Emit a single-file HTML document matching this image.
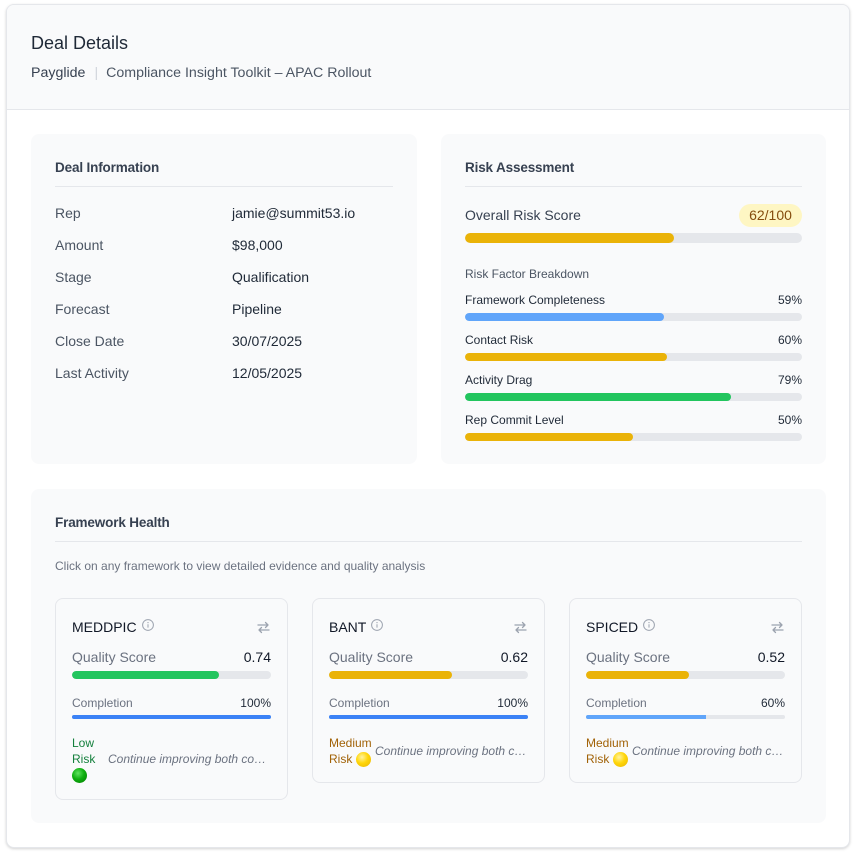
<!DOCTYPE html>
<html><head><meta charset="utf-8"><style>
*{box-sizing:border-box;margin:0;padding:0}
html,body{width:857px;height:854px;background:#fff;overflow:hidden;font-family:"Liberation Sans",Arial,sans-serif;position:relative}
.a{position:absolute;white-space:nowrap}
.outer{position:absolute;left:6px;top:4px;width:844px;height:844px;border:1px solid #e5e7eb;border-radius:8px;background:#fff;box-shadow:0 1px 3px rgba(0,0,0,.12),0 1px 2px rgba(0,0,0,.06);overflow:hidden}
.header{position:absolute;left:0;top:0;width:842px;height:105px;background:#f9fafb;border-bottom:1px solid #e5e7eb}
.card{position:absolute;background:#f9fafb;border-radius:8px}
.st{font-size:13.5px;font-weight:700;color:#374151;line-height:20px;letter-spacing:-0.15px}
.hr{position:absolute;height:1px;background:#e5e7eb}
.lbl{font-size:14px;color:#4b5563;line-height:20px;left:55px}
.val{font-size:14px;color:#1f2937;line-height:20px;left:232px}
.track{position:absolute;background:#e5e7eb;overflow:hidden}
.fill{position:absolute;left:0;top:0;height:100%}
.f12{font-size:12px;line-height:16px;color:#1f2937}
.sub{position:absolute;top:598px;width:233px;border:1px solid #e5e7eb;border-radius:8px;background:#f9fafb}
.sub .t{position:absolute;left:16px;top:18px;font-size:14px;line-height:20px;color:#111827;font-weight:500;white-space:nowrap}
.sub .t svg{vertical-align:top;margin-left:5px;margin-top:2px}
.sub .sw{position:absolute;left:200px;top:22px}
.sub .qs{position:absolute;left:16px;top:48px;font-size:14px;line-height:20px;color:#6b7280}
.sub .qv{position:absolute;right:16px;top:48px;font-size:14px;line-height:20px;color:#111827}
.sub .qb{position:absolute;left:16px;top:72px;width:199px;height:8px;border-radius:4px;background:#e5e7eb;overflow:hidden}
.sub .cl{position:absolute;left:16px;top:96px;font-size:12px;line-height:16px;color:#6b7280}
.sub .cv{position:absolute;right:16px;top:96px;font-size:12px;line-height:16px;color:#1f2937}
.sub .cb{position:absolute;left:16px;top:116px;width:199px;height:4px;border-radius:2px;background:#e5e7eb;overflow:hidden}
.sub .rr{position:absolute;left:16px;top:136px;width:199px;display:flex;align-items:center}
.sub .rl{font-size:12px;line-height:16px;flex:none}
.sub .rt{font-size:12px;line-height:16px;font-style:italic;color:#6b7280;white-space:nowrap;overflow:hidden;text-overflow:ellipsis;flex:1;min-width:0}
.dot{display:inline-block;width:15px;height:15px;border-radius:50%;vertical-align:middle}
.dg{background:radial-gradient(circle at 40% 35%,#5fe35f 0%,#10b010 45%,#007a00 100%)}
.dy{background:radial-gradient(circle at 40% 35%,#fff3a0 0%,#ffd60a 45%,#e8b400 100%)}
</style></head><body>
<div class="outer"><div class="header"></div></div>

<div class="a" style="left:31px;top:29px;font-size:18px;line-height:28px;color:#1f2937;font-weight:500">Deal Details</div>
<div class="a" style="left:31px;top:63px;font-size:14.2px;line-height:20px;color:#4b5563"><span style="color:#374151">Payglide</span><span style="color:#d1d5db;margin:0 8px 0 9px">|</span>Compliance Insight Toolkit – APAC Rollout</div>

<!-- Deal Information -->
<div class="card" style="left:31px;top:134px;width:386px;height:330px"></div>
<div class="a st" style="left:55px;top:158px">Deal Information</div>
<div class="hr" style="left:55px;top:186px;width:338px"></div>
<div class="a lbl" style="top:203px">Rep</div><div class="a val" style="top:203px">jamie@summit53.io</div>
<div class="a lbl" style="top:235px">Amount</div><div class="a val" style="top:235px">$98,000</div>
<div class="a lbl" style="top:267px">Stage</div><div class="a val" style="top:267px">Qualification</div>
<div class="a lbl" style="top:299px">Forecast</div><div class="a val" style="top:299px">Pipeline</div>
<div class="a lbl" style="top:331px">Close Date</div><div class="a val" style="top:331px">30/07/2025</div>
<div class="a lbl" style="top:363px">Last Activity</div><div class="a val" style="top:363px">12/05/2025</div>

<!-- Risk Assessment -->
<div class="card" style="left:441px;top:134px;width:385px;height:330px"></div>
<div class="a st" style="left:465px;top:158px">Risk Assessment</div>
<div class="hr" style="left:465px;top:186px;width:337px"></div>
<div class="a" style="left:465px;top:205px;font-size:14px;line-height:20px;color:#374151">Overall Risk Score</div>
<div class="a" style="left:739px;top:204px;width:63px;height:23px;border-radius:12px;background:#fef6c3;color:#854d0e;font-size:14px;line-height:23px;text-align:center">62/100</div>
<div class="track" style="left:465px;top:233px;width:337px;height:10px;border-radius:5px"><div class="fill" style="width:209px;background:#eab308;border-radius:5px"></div></div>
<div class="a f12" style="left:465px;top:266px;color:#4b5563">Risk Factor Breakdown</div>

<div class="a f12" style="left:465px;top:292px">Framework Completeness</div><div class="a f12" style="right:55px;top:292px">59%</div>
<div class="track" style="left:465px;top:313px;width:337px;height:8px;border-radius:4px"><div class="fill" style="width:199px;background:#60a5fa;border-radius:4px"></div></div>
<div class="a f12" style="left:465px;top:332px">Contact Risk</div><div class="a f12" style="right:55px;top:332px">60%</div>
<div class="track" style="left:465px;top:353px;width:337px;height:8px;border-radius:4px"><div class="fill" style="width:202px;background:#eab308;border-radius:4px"></div></div>
<div class="a f12" style="left:465px;top:372px">Activity Drag</div><div class="a f12" style="right:55px;top:372px">79%</div>
<div class="track" style="left:465px;top:393px;width:337px;height:8px;border-radius:4px"><div class="fill" style="width:266px;background:#22c55e;border-radius:4px"></div></div>
<div class="a f12" style="left:465px;top:412px">Rep Commit Level</div><div class="a f12" style="right:55px;top:412px">50%</div>
<div class="track" style="left:465px;top:433px;width:337px;height:8px;border-radius:4px"><div class="fill" style="width:168px;background:#eab308;border-radius:4px"></div></div>

<!-- Framework Health -->
<div class="card" style="left:31px;top:489px;width:795px;height:334px"></div>
<div class="a st" style="left:55px;top:513px">Framework Health</div>
<div class="hr" style="left:55px;top:541px;width:747px"></div>
<div class="a f12" style="left:55px;top:558px;color:#6b7280">Click on any framework to view detailed evidence and quality analysis</div>

<!-- MEDDPIC -->
<div class="sub" style="left:55px;height:202px">
  <div class="t">MEDDPIC<svg width="12" height="12" viewBox="0 0 12 12"><circle cx="6" cy="6" r="5.4" fill="none" stroke="#9ca3af" stroke-width="1"/><line x1="6" y1="5.2" x2="6" y2="8.6" stroke="#9ca3af" stroke-width="1"/><circle cx="6" cy="3.6" r="0.6" fill="#9ca3af"/></svg></div>
  <svg class="sw" width="15" height="13" viewBox="0 0 15 13"><path d="M2 4h10M9.5 1.5L12 4 9.5 6.5M13 9H3M5.5 6.5L3 9l2.5 2.5" fill="none" stroke="#9ca3af" stroke-width="1.3" stroke-linecap="round" stroke-linejoin="round"/></svg>
  <div class="qs">Quality Score</div><div class="qv">0.74</div>
  <div class="qb"><div class="fill" style="width:147px;background:#22c55e;border-radius:4px"></div></div>
  <div class="cl">Completion</div><div class="cv">100%</div>
  <div class="cb"><div class="fill" style="width:199px;background:#3b82f6"></div></div>
  <div class="rr"><div class="rl" style="width:32px;color:#15803d">Low<br>Risk<br><span class="dot dg"></span></div><div class="rt" style="margin-left:4px">Continue improving both completion and quality</div></div>
</div>

<!-- BANT -->
<div class="sub" style="left:312px;height:185px">
  <div class="t">BANT<svg width="12" height="12" viewBox="0 0 12 12"><circle cx="6" cy="6" r="5.4" fill="none" stroke="#9ca3af" stroke-width="1"/><line x1="6" y1="5.2" x2="6" y2="8.6" stroke="#9ca3af" stroke-width="1"/><circle cx="6" cy="3.6" r="0.6" fill="#9ca3af"/></svg></div>
  <svg class="sw" width="15" height="13" viewBox="0 0 15 13"><path d="M2 4h10M9.5 1.5L12 4 9.5 6.5M13 9H3M5.5 6.5L3 9l2.5 2.5" fill="none" stroke="#9ca3af" stroke-width="1.3" stroke-linecap="round" stroke-linejoin="round"/></svg>
  <div class="qs">Quality Score</div><div class="qv">0.62</div>
  <div class="qb"><div class="fill" style="width:123px;background:#eab308;border-radius:4px"></div></div>
  <div class="cl">Completion</div><div class="cv">100%</div>
  <div class="cb"><div class="fill" style="width:199px;background:#3b82f6"></div></div>
  <div class="rr"><div class="rl" style="width:44px;color:#a16207">Medium<br>Risk <span class="dot dy"></span></div><div class="rt" style="margin-left:2px">Continue improving both completion and quality</div></div>
</div>

<!-- SPICED -->
<div class="sub" style="left:569px;height:185px">
  <div class="t">SPICED<svg width="12" height="12" viewBox="0 0 12 12"><circle cx="6" cy="6" r="5.4" fill="none" stroke="#9ca3af" stroke-width="1"/><line x1="6" y1="5.2" x2="6" y2="8.6" stroke="#9ca3af" stroke-width="1"/><circle cx="6" cy="3.6" r="0.6" fill="#9ca3af"/></svg></div>
  <svg class="sw" width="15" height="13" viewBox="0 0 15 13"><path d="M2 4h10M9.5 1.5L12 4 9.5 6.5M13 9H3M5.5 6.5L3 9l2.5 2.5" fill="none" stroke="#9ca3af" stroke-width="1.3" stroke-linecap="round" stroke-linejoin="round"/></svg>
  <div class="qs">Quality Score</div><div class="qv">0.52</div>
  <div class="qb"><div class="fill" style="width:103px;background:#eab308;border-radius:4px"></div></div>
  <div class="cl">Completion</div><div class="cv">60%</div>
  <div class="cb"><div class="fill" style="width:120px;background:#60a5fa"></div></div>
  <div class="rr"><div class="rl" style="width:44px;color:#a16207">Medium<br>Risk <span class="dot dy"></span></div><div class="rt" style="margin-left:2px">Continue improving both completion and quality</div></div>
</div>
</body></html>
